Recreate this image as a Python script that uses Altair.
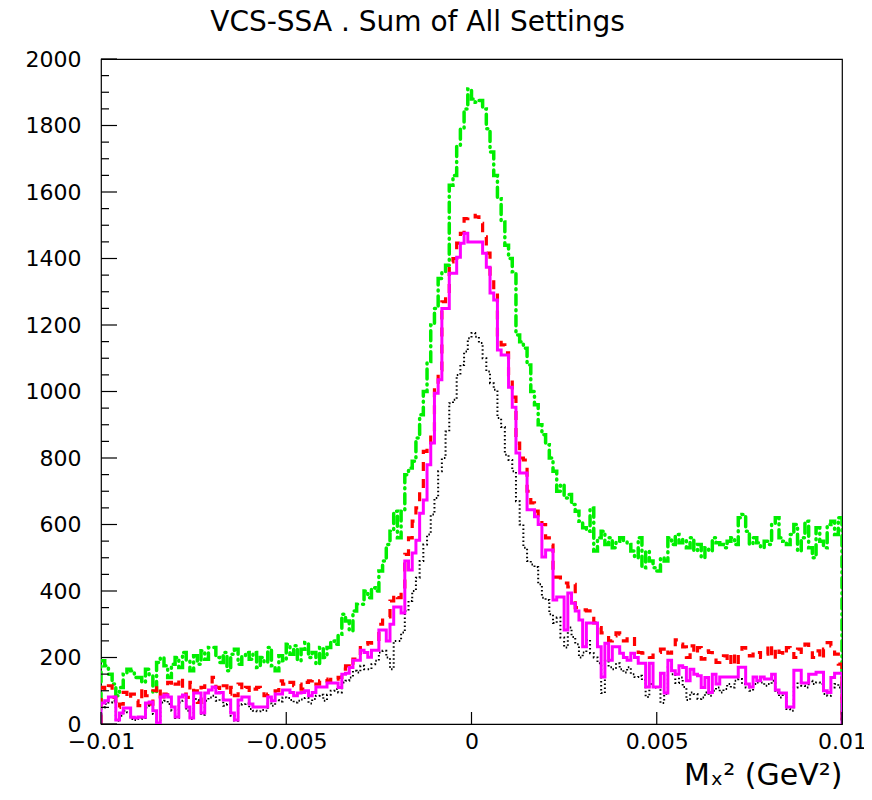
import altair as alt
import pandas as pd

# ---- data (200 bins of width 1e-4 between -0.01 and 0.01) ----
x_min, x_max, n_bins = -0.01, 0.01, 200

green = [
    190, 175, 150, 120, 85, 110, 150, 165, 160, 140,
    140, 125, 165, 145, 95, 185, 200, 175, 140, 180,
    200, 170, 215, 190, 160, 205, 180, 220, 195, 230,
    230, 200, 185, 215, 160, 210, 225, 180, 205, 215,
    195, 215, 170, 200, 185, 230, 175, 160, 205, 190,
    240, 210, 235, 190, 225, 245, 200, 215, 180, 230,
    200, 230, 250, 240, 270, 330, 310, 280, 340, 360,
    360, 400, 380, 410, 400, 460, 490, 540, 580, 640,
    560, 640, 750, 770, 790, 860, 930, 1000, 1090, 1200,
    1250, 1340, 1360, 1380, 1620, 1650, 1740, 1790, 1850, 1910,
    1880, 1870, 1875, 1850, 1790, 1720, 1650, 1580, 1510, 1440,
    1400, 1360, 1170, 1150, 1130, 1080, 1000, 960, 900, 870,
    840, 800, 760, 700, 720, 680, 690, 660, 640, 610,
    590, 580, 650, 520, 560, 580, 540, 560, 530, 550,
    560, 550, 540, 520, 500, 560, 470, 520, 490, 470,
    460, 500, 490, 560, 540, 570, 545, 555, 530, 560,
    520, 540, 500, 530, 520, 560, 545, 540, 530, 550,
    560, 540, 620, 630, 580, 540, 560, 545, 530, 550,
    540, 600, 620, 560, 550, 540, 570, 600, 520, 560,
    610, 530, 500, 590, 550, 530, 600, 610, 570, 620,
]

red = [
    110, 100, 115, 80, 50, 60, 95, 75, 90, 70,
    55, 110, 85, 60, 100, 115, 70, 90, 125, 110,
    120, 140, 90, 80, 125, 100, 65, 110, 120, 120,
    140, 110, 100, 115, 90, 110, 85, 120, 100, 110,
    95, 105, 110, 100, 85, 90, 95, 100, 130, 120,
    130, 125, 115, 120, 105, 125, 130, 135, 120, 130,
    135, 130, 140, 135, 140, 165, 175, 170, 195, 200,
    235, 240, 245, 243, 245, 300, 320, 322, 370, 390,
    380, 390, 510, 560, 610, 650, 700, 820, 830, 880,
    1020, 1065, 1270, 1296, 1390, 1400, 1446, 1476, 1520, 1530,
    1530, 1525, 1506, 1465, 1416, 1335, 1296, 1155, 1140, 1116,
    1050, 983, 845, 800, 794, 700, 665, 640, 614, 600,
    560, 538, 442, 442, 424, 424, 412, 420, 350, 343,
    343, 340, 334, 304, 290, 274, 260, 250, 265, 274,
    270, 250, 262, 262, 222, 215, 213, 213, 200, 213,
    215, 225, 232, 213, 225, 253, 240, 232, 200, 235,
    210, 230, 195, 220, 215, 200, 185, 190, 205, 180,
    215, 175, 210, 230, 220, 205, 220, 215, 200, 210,
    240, 195, 230, 215, 205, 230, 220, 200, 225, 215,
    240, 230, 200, 220, 195, 225, 245, 235, 210, 180,
]

magenta = [
    63, 70, 81, 81, 12, 33, 48, 48, 20, 18,
    21, 20, 63, 66, 40, 3, 81, 87, 81, 51,
    21, 81, 87, 51, 18, 93, 93, 33, 93, 102,
    111, 93, 95, 72, 72, 33, 12, 72, 81, 81,
    60, 51, 51, 51, 51, 81, 70, 90, 90, 102,
    102, 95, 85, 93, 95, 100, 85, 95, 111, 111,
    111, 123, 123, 123, 110, 150, 153, 170, 192, 192,
    222, 215, 201, 222, 222, 283, 283, 250, 300, 352,
    352, 334, 490, 463, 514, 553, 634, 674, 780, 845,
    995, 1035, 1250, 1250, 1356, 1356, 1404, 1446, 1476, 1450,
    1450, 1450, 1450, 1416, 1374, 1296, 1275, 1125, 1110, 1110,
    1013, 953, 815, 755, 755, 644, 644, 623, 600, 502,
    523, 523, 373, 382, 382, 283, 394, 363, 340, 313,
    232, 304, 304, 304, 232, 141, 243, 192, 232, 232,
    213, 200, 192, 213, 200, 183, 183, 111, 183, 111,
    111, 153, 93, 192, 160, 150, 175, 170, 130, 165,
    150, 145, 110, 140, 95, 150, 120, 141, 141, 141,
    141, 141, 171, 171, 120, 111, 141, 130, 141, 135,
    135, 150, 102, 93, 93, 51, 51, 162, 162, 123,
    123, 150, 150, 156, 156, 100, 95, 140, 153, 153,
]

black = [
    50, 60, 65, 70, 10, 25, 40, 35, 15, 12,
    15, 18, 50, 55, 30, 2, 65, 70, 60, 40,
    18, 65, 70, 40, 15, 75, 72, 28, 70, 80,
    85, 70, 75, 55, 60, 25, 10, 55, 60, 62,
    45, 40, 38, 42, 40, 62, 55, 72, 68, 80,
    78, 72, 65, 70, 74, 78, 62, 75, 85, 88,
    70, 88, 100, 105, 95, 125, 130, 140, 160, 155,
    175, 165, 165, 180, 190, 215, 220, 200, 165, 250,
    250, 275, 340, 370, 400, 440, 490, 540, 570, 630,
    680, 760, 800, 880, 965, 975, 1050, 1080, 1120, 1160,
    1176, 1165, 1146, 1100, 1060, 1025, 1005, 920, 893, 810,
    794, 760, 670, 600, 530, 490, 480, 472, 420, 380,
    373, 330, 304, 320, 260, 230, 290, 262, 240, 200,
    215, 253, 213, 200, 183, 93, 190, 171, 165, 183,
    165, 155, 171, 150, 141, 145, 132, 81, 120, 110,
    111, 63, 90, 171, 150, 123, 140, 111, 72, 95,
    90, 75, 80, 95, 85, 100, 110, 95, 105, 120,
    110, 130, 135, 120, 110, 100, 120, 125, 125, 115,
    120, 130, 95, 80, 90, 45, 40, 110, 125, 115,
    110, 130, 120, 125, 120, 90, 85, 110, 120, 110,
]

series_names = ["green", "red", "black", "magenta"]
series_values = {"green": green, "red": red, "black": black, "magenta": magenta}

y_major_ticks = list(range(0, 2001, 200))
y_minor_ticks = [v for v in range(0, 2001, 50) if v % 200 != 0]
x_major_ticks = [-0.01, -0.005, 0.0, 0.005, 0.01]

# ---- build histogram outline table ----
bin_w = (x_max - x_min) / n_bins
rows = []
for name in series_names:
    vals = series_values[name]
    rows.append({"s": name, "idx": 0, "x": x_min, "y": 0})
    for i, v in enumerate(vals):
        rows.append({"s": name, "idx": i + 1, "x": x_min + i * bin_w, "y": v})
    rows.append({"s": name, "idx": n_bins + 1, "x": x_max, "y": vals[-1]})
    rows.append({"s": name, "idx": n_bins + 2, "x": x_max, "y": 0})
df = pd.DataFrame(rows)

FONT = "DejaVu Sans"
W, H = 741, 665

xscale = alt.Scale(domain=[x_min, x_max], nice=False, zero=False)
yscale = alt.Scale(domain=[0, 2000], nice=False, zero=True)

xaxis = alt.Axis(
    values=x_major_ticks, format="~g", ticks=False, domain=False, grid=False,
    labelFont=FONT, labelFontSize=22, labelColor="black", labelPadding=7,
    labelFlush=False, labelOverlap=False,
    title="Mₓ² (GeV²)", titleFont=FONT, titleFontSize=30, titleFontWeight="normal",
    titleColor="black", titleAnchor="end", titlePadding=8,
)
yaxis = alt.Axis(
    values=y_major_ticks, format="d", ticks=False, domain=False, grid=False,
    labelFont=FONT, labelFontSize=22, labelColor="black", labelPadding=20,
    labelOverlap=False, labelFlush=False, title=None,
)

styles = {
    "green": dict(color="#00ee00", strokeWidth=3.5, strokeDash=[10, 5, 1, 5], strokeCap="round"),
    "red": dict(color="#ff0000", strokeWidth=3.2, strokeDash=[9, 8]),
    "black": dict(color="#000000", strokeWidth=2, strokeDash=[1.5, 2.5]),
    "magenta": dict(color="#ff00ff", strokeWidth=3),
}

layers = []
for name in series_names:
    st = styles[name]
    layer = (
        alt.Chart(df)
        .transform_filter(alt.datum.s == name)
        .mark_line(interpolate="step-after", clip=True, **st)
        .encode(
            x=alt.X("x:Q", scale=xscale, axis=xaxis),
            y=alt.Y("y:Q", scale=yscale, axis=yaxis),
            order=alt.Order("idx:Q"),
        )
    )
    layers.append(layer)

ymaj = pd.DataFrame({"y": y_major_ticks})
ymin = pd.DataFrame({"y": y_minor_ticks})
xmaj = pd.DataFrame({"x": x_major_ticks})

tick_major_y = alt.Chart(ymaj).mark_rule(color="black", strokeWidth=1.2).encode(
    y=alt.Y("y:Q", scale=yscale, axis=yaxis), x=alt.value(0), x2=alt.value(16))
tick_minor_y = alt.Chart(ymin).mark_rule(color="black", strokeWidth=1.2).encode(
    y=alt.Y("y:Q", scale=yscale, axis=yaxis), x=alt.value(0), x2=alt.value(8))
tick_major_x = alt.Chart(xmaj).mark_rule(color="black", strokeWidth=1.2).encode(
    x=alt.X("x:Q", scale=xscale, axis=xaxis), y=alt.value(H), y2=alt.value(H - 12))

chart = (
    alt.layer(*layers, tick_major_y, tick_minor_y, tick_major_x)
    .properties(
        width=W, height=H,
        autosize=alt.AutoSizeParams(type="none"),
        padding={"left": 93, "top": 51, "right": 22, "bottom": 68},
        title=alt.TitleParams(
            "VCS-SSA . Sum of All Settings", font=FONT, fontSize=28,
            fontWeight="normal", color="black", anchor="middle", frame="group",
            dx=-54, offset=11,
        ),
        background="white",
    )
    .configure_view(stroke="black", strokeWidth=1.2)
)

chart.save("out.html", embed_options={"renderer": "svg", "actions": False})
